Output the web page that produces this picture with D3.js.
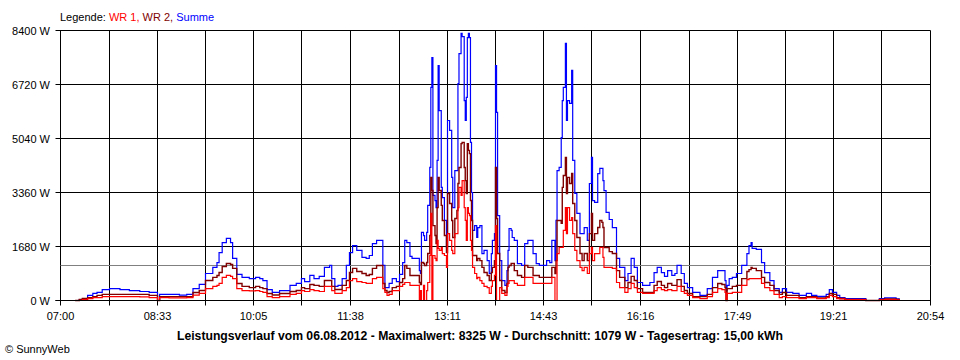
<!DOCTYPE html>
<html><head><meta charset="utf-8">
<script src="https://cdn.jsdelivr.net/npm/d3@7/dist/d3.min.js"></script>
<style>
body{margin:0;background:#fff}
svg{display:block}
text{font-family:"Liberation Sans",Arial,sans-serif}
</style>
</head><body>
<svg id="chart" width="960" height="360"></svg>
<script>
// ---- data ----
const times = ["07:14","07:18","07:21","07:26","07:31","07:35","07:40","07:47","07:57","08:06","08:16","08:25","08:32","08:33","08:35","08:44","08:54","09:01","09:07","09:13","09:19","09:26","09:30","09:32","09:35","09:39","09:43","09:45","09:49","09:54","10:01","10:07","10:11","10:14","10:18","10:23","10:30","10:40","10:46","10:51","10:54","10:59","11:03","11:08","11:13","11:18","11:20","11:23","11:26","11:30","11:34","11:37","11:40","11:44","11:49","11:53","11:56","11:59","12:03","12:08","12:09","12:11","12:13","12:15","12:18","12:22","12:25","12:28","12:30","12:32","12:35","12:37","12:42","12:44","12:45","12:46","12:48","12:49","12:51","12:52","12:54","12:55","12:56","12:57","12:59","13:00","13:01","13:02","13:03","13:05","13:06","13:08","13:10","13:11","13:13","13:15","13:16","13:18","13:20","13:21","13:22","13:24","13:25","13:27","13:28","13:29","13:30","13:31","13:32","13:33","13:34","13:35","13:37","13:39","13:40","13:42","13:44","13:46","13:49","13:51","13:53","13:54","13:56","13:57","13:58","13:59","14:01","14:03","14:06","14:08","14:09","14:10","14:12","14:13","14:15","14:18","14:22","14:25","14:28","14:31","14:33","14:36","14:39","14:46","14:49","14:51","14:54","14:55","14:56","14:58","15:00","15:01","15:02","15:04","15:05","15:06","15:08","15:10","15:11","15:13","15:15","15:18","15:20","15:22","15:25","15:27","15:29","15:30","15:32","15:35","15:37","15:39","15:40","15:41","15:43","15:46","15:48","15:49","15:53","15:56","16:01","16:04","16:07","16:10","16:13","16:18","16:25","16:29","16:32","16:36","16:39","16:42","16:46","16:49","16:51","16:55","16:58","17:01","17:06","17:13","17:17","17:20","17:25","17:30","17:34","17:37","17:38","17:39","17:41","17:44","17:48","17:53","17:58","18:00","18:02","18:03","18:07","18:12","18:15","18:20","18:24","18:29","18:32","18:36","18:42","18:48","18:55","19:00","19:05","19:10","19:14","19:17","19:20","19:24","19:27","19:32","19:49","19:52","20:03","20:05","20:10","20:21","20:24"];

const summe = [0,30,60,160,220,250,340,370,340,310,280,250,250,0,190,190,170,190,370,500,840,1030,1180,1490,1800,1930,1800,1310,810,720,680,720,680,620,340,250,310,470,530,680,590,780,680,750,1030,1090,680,440,470,680,1090,1490,1710,1560,1340,1310,1400,1770,1870,1870,1090,400,400,530,680,590,810,1180,1870,1800,1370,1310,1310,930,840,2120,2020,1870,2120,2960,4140,6630,7560,3270,3110,2890,4360,7310,5910,3520,3200,2490,1650,5600,5290,3830,2890,4040,4040,6750,7680,8310,8210,6220,5600,6320,8180,8310,8180,4920,3360,2180,2330,1960,2270,2330,1460,1560,1240,840,1460,1870,2080,7310,5850,2640,1240,620,470,930,1560,2240,2180,1960,1870,1150,1090,1770,1870,1870,1460,1150,1090,1240,1180,1870,1240,2490,4040,4140,5070,6220,6630,8000,5600,6220,6130,7160,4360,3330,2710,2080,2080,2270,1870,3640,4450,3110,3050,3950,4110,4110,3730,3420,2740,2520,2520,2270,1310,1030,620,840,1310,1030,560,470,560,870,1030,870,750,930,780,840,1090,840,530,400,250,160,160,370,720,930,930,620,310,470,680,720,840,1090,1460,1710,1800,1620,1590,1180,870,620,370,250,370,250,220,160,220,160,130,130,190,340,250,160,90,60,60,0,0,60,80,50,0];

const wr2 = [0,30,60,90,120,160,190,190,190,190,190,160,160,0,120,120,120,120,250,310,620,720,780,870,1060,1150,1120,1000,530,440,400,440,400,370,220,170,220,280,310,400,370,500,470,440,620,620,440,340,340,470,620,870,1000,900,840,780,810,1000,1090,1090,530,310,250,280,400,440,560,680,1090,1000,780,780,780,560,500,1180,1150,1090,1180,1460,2020,3830,3420,2330,2020,1770,2890,3830,3420,2960,2490,2020,1490,3330,3020,2490,1960,2550,2800,3640,4140,4880,4920,4140,3730,3330,4880,4670,4570,3110,2490,1400,1400,1240,1310,1240,1030,870,780,620,870,1030,1240,4140,2550,1460,620,310,250,530,1030,1090,1150,1150,930,780,720,1090,1030,1030,780,780,720,720,720,1030,840,1240,2490,2490,2400,3520,3890,4450,3330,3830,3640,3950,3020,2490,1960,1460,1240,1460,1240,2080,2710,1870,2080,2270,2490,2430,2270,1650,1650,1520,1520,1460,930,720,400,560,750,620,370,250,250,470,590,470,400,530,470,470,650,440,310,220,120,120,120,190,400,530,500,400,0,370,370,440,470,680,900,960,1030,1000,930,720,560,470,310,190,250,160,160,90,120,120,80,80,120,220,190,90,60,30,30,0,0,30,50,30,0];

const wr1 = [0,0,30,60,90,90,120,120,120,120,110,90,90,0,90,80,80,90,170,220,370,440,470,530,720,780,750,680,370,310,300,310,280,250,120,90,120,190,220,310,280,340,310,280,440,440,310,220,220,310,400,620,680,590,560,530,530,680,720,720,370,250,160,190,310,310,440,500,560,560,470,470,470,0,310,0,470,0,310,560,1400,2710,0,1400,1310,1240,1870,1620,1560,1650,1460,1400,1030,2080,1870,1560,1460,2080,2080,2890,3520,3270,3730,2890,2490,1870,2890,2710,2640,1870,1560,1030,840,680,720,620,530,440,400,220,440,620,780,2330,0,0,400,220,160,440,530,620,620,620,530,470,470,720,720,720,530,530,530,530,530,720,0,0,1460,1650,1650,1650,2180,2890,2080,2890,2490,2580,2080,1560,1240,1030,930,1030,840,1460,1650,1240,1460,1460,1650,1650,1340,1030,1030,1030,1030,1000,560,400,250,370,530,400,250,220,220,310,400,340,310,340,310,310,440,280,220,160,90,60,60,120,250,370,340,250,0,220,220,250,250,470,650,680,680,680,680,530,400,310,190,90,120,90,90,60,90,90,60,60,90,160,120,60,50,30,30,0,0,20,30,20,0];

const yTickValues = [0, 1680, 3360, 5040, 6720, 8400];
const xTickLabels = ["07:00","08:33","10:05","11:38","13:11","14:43","16:16","17:49","19:21","20:54"];
const averageW = 1079;
const legendParts = [
  {text: "Legende: ", key: "label"},
  {text: "WR 1, ", key: "wr1"},
  {text: "WR 2, ", key: "wr2"},
  {text: "Summe", key: "summe"}
];
const titleText = "Leistungsverlauf vom 06.08.2012 - Maximalwert: 8325 W - Durchschnitt: 1079 W - Tagesertrag: 15,00 kWh";
const footerText = "\u00A9 SunnyWeb";

// ---- drawing ----
const colors = {label: "#000000", wr1: "#ff0000", wr2: "#800000", summe: "#0000ff"};
const toMin = s => { const [h, m] = s.split(":").map(Number); return h * 60 + m; };
const svg = d3.select("#chart");

const x = d3.scaleLinear()
  .domain([toMin(xTickLabels[0]), toMin(xTickLabels[xTickLabels.length - 1])])
  .range([60.5, 930.5]);
const y = d3.scaleLinear().domain([0, 8400]).range([300.5, 30.5]);
const snap = v => Math.round(v - 0.5) + 0.5;

const labelMins = xTickLabels.map(toMin);
const gridMins = [];
labelMins.forEach((m, i) => {
  gridMins.push(m);
  if (i < labelMins.length - 1) gridMins.push((m + labelMins[i + 1]) / 2);
});

const grid = svg.append("g");
grid.selectAll("line.h").data(yTickValues).join("line")
  .attr("x1", 55.5).attr("x2", 930.5)
  .attr("y1", d => snap(y(d))).attr("y2", d => snap(y(d)))
  .attr("stroke", "#000").attr("stroke-width", 1);
grid.selectAll("line.v").data(gridMins).join("line")
  .attr("x1", d => snap(x(d))).attr("x2", d => snap(x(d)))
  .attr("y1", 30.5).attr("y2", 305.5)
  .attr("stroke", "#000").attr("stroke-width", 1);

// average line
svg.append("line")
  .attr("x1", 60.5).attr("x2", 930.5)
  .attr("y1", snap(y(averageW))).attr("y2", snap(y(averageW)))
  .attr("stroke", "#808080").attr("stroke-width", 1);

// y labels
svg.append("g").selectAll("text").data(yTickValues).join("text")
  .attr("x", 50).attr("y", d => y(d) + 4)
  .attr("text-anchor", "end").attr("font-size", 11).attr("fill", "#000")
  .text(d => d + " W");

// x labels
svg.append("g").selectAll("text").data(xTickLabels).join("text")
  .attr("x", d => x(toMin(d))).attr("y", 320)
  .attr("text-anchor", "middle").attr("font-size", 11).attr("fill", "#000")
  .text(d => d);

// series
const tm = times.map(toMin);
const line = d3.line().x((d, i) => x(tm[i])).y(d => y(d)).curve(d3.curveStepAfter);
[["summe", summe, 1.2], ["wr2", wr2, 1.4], ["wr1", wr1, 1.2]].forEach(([k, vals, w]) => {
  svg.append("path").datum(vals)
    .attr("d", line).attr("fill", "none")
    .attr("stroke", colors[k]).attr("stroke-width", w)
    .attr("stroke-linejoin", "miter");
});

// redraw zero axis on top
svg.append("line")
  .attr("x1", 55.5).attr("x2", 930.5).attr("y1", 300.5).attr("y2", 300.5)
  .attr("stroke", "#000").attr("stroke-width", 1);

// legend
const lg = svg.append("text").attr("x", 60).attr("y", 21).attr("font-size", 11);
lg.selectAll("tspan").data(legendParts).join("tspan")
  .attr("fill", d => colors[d.key]).attr("xml:space", "preserve")
  .text(d => d.text);

// title
svg.append("text").attr("x", 480).attr("y", 340)
  .attr("text-anchor", "middle").attr("font-size", 12).attr("font-weight", "bold")
  .attr("textLength", 606).attr("lengthAdjust", "spacingAndGlyphs")
  .text(titleText);

// footer
svg.append("text").attr("x", 5).attr("y", 353).attr("font-size", 11).text(footerText);
</script>
</body></html>
